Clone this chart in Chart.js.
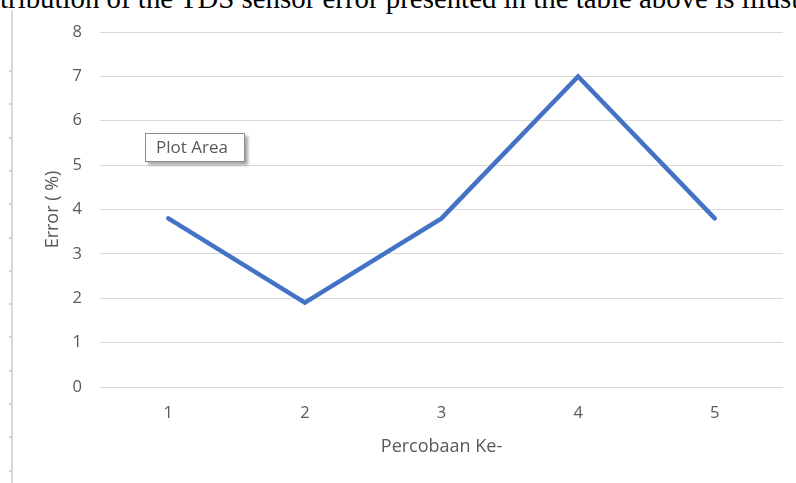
<!DOCTYPE html>
<html>
<head>
<meta charset="utf-8">
<script src="https://cdn.jsdelivr.net/npm/chart.js@4.4.1/dist/chart.umd.min.js"></script>
<style>
  html, body { margin: 0; padding: 0; background: #ffffff; }
  body { width: 796px; height: 483px; position: relative; overflow: hidden; }
  #caption {
    position: absolute; left: 0; top: 0; width: 796px; height: 40px;
    overflow: hidden; white-space: nowrap; pointer-events: none;
  }
  #caption span {
    position: absolute; left: 0; font-family: "Liberation Serif", "Times New Roman", serif;
    color: #000; line-height: 1;
  }
  #margin {
    position: absolute; left: 11px; top: 10px; width: 2px; height: 473px; background: #d9d9d9;
  }
  .rtick { position: absolute; left: 9px; width: 3px; height: 2px; background: #d0d0d0; }
  #chartWrap { position: absolute; left: 0; top: 0; width: 796px; height: 483px; }
  #tip {
    position: absolute; left: 145px; top: 133px; width: 100px; height: 29px;
    border: 1px solid #8c8c8c; background: #fff; box-sizing: border-box;
    box-shadow: 3px 3px 3px rgba(0,0,0,0.35);
    font-family: "Open Sans", "Noto Sans", sans-serif; font-size: 17px; color: #595959;
    line-height: 26px; padding-left: 10px;
  }
</style>
</head>
<body>
<div id="caption"><span id="capText">tribution of the TDS sensor error presented in the table above is illust</span></div>
<div id="margin"></div>
<div id="chartWrap"><canvas id="chart" width="796" height="483"></canvas></div>
<div id="tip">Plot Area</div>
<script>
// Trial numbers and measured TDS sensor error (%)
const trials = ['1', '2', '3', '4', '5'];
const errorPercent = [3.8, 1.9, 3.8, 7.0, 3.8];
const yTicks = [0, 1, 2, 3, 4, 5, 6, 7, 8];

// page-margin ruler marks
for (let y = 70; y < 483; y += 33.3) {
  const t = document.createElement('div');
  t.className = 'rtick';
  t.style.top = Math.round(y) + 'px';
  document.body.appendChild(t);
}

// caption line clipped at the top edge of the page
(function () {
  const span = document.getElementById('capText');
  const c = document.createElement('canvas').getContext('2d');
  c.font = '100px "Liberation Serif"';
  const w = c.measureText(span.textContent).width;
  const size = 100 * 800 / w;
  span.style.fontSize = size + 'px';
  span.style.top = (10 - size * 0.89) + 'px';
})();

const tickFont = { family: '"Open Sans", "Noto Sans", sans-serif', size: 16.5 };
const titleFont = { family: '"Open Sans", "Noto Sans", sans-serif', size: 18 };

new Chart(document.getElementById('chart'), {
  type: 'line',
  data: {
    labels: trials,
    datasets: [{
      data: errorPercent,
      borderColor: '#4472C4',
      borderWidth: 4.5,
      borderCapStyle: 'round',
      borderJoinStyle: 'miter',
      pointRadius: 0,
      tension: 0,
      fill: false
    }]
  },
  options: {
    responsive: false,
    animation: false,
    events: [],
    layout: { padding: { left: 20, right: 13, top: 32, bottom: 0 } },
    plugins: { legend: { display: false }, tooltip: { enabled: false } },
    scales: {
      x: {
        offset: true,
        grid: { display: false, drawTicks: false },
        border: { display: false },
        ticks: { color: '#595959', font: tickFont, padding: 16, maxRotation: 0 },
        title: {
          display: true, text: 'Percobaan Ke-', color: '#595959', font: titleFont,
          padding: { top: 0, bottom: 25 }
        },
        afterFit: (s) => { s.height = 96; }
      },
      y: {
        min: 0, max: 8,
        afterBuildTicks: (s) => { s.ticks = yTicks.map(v => ({ value: v })); },
        grid: { color: '#d9d9d9', lineWidth: 1, drawTicks: false },
        border: { display: false },
        ticks: { color: '#595959', font: tickFont, padding: 18 },
        title: {
          display: true, text: 'Error ( %)', color: '#595959', font: titleFont,
          padding: { top: 22, bottom: 0 }
        },
        afterFit: (s) => { s.width = 80; }
      }
    }
  }
});
</script>
</body>
</html>
